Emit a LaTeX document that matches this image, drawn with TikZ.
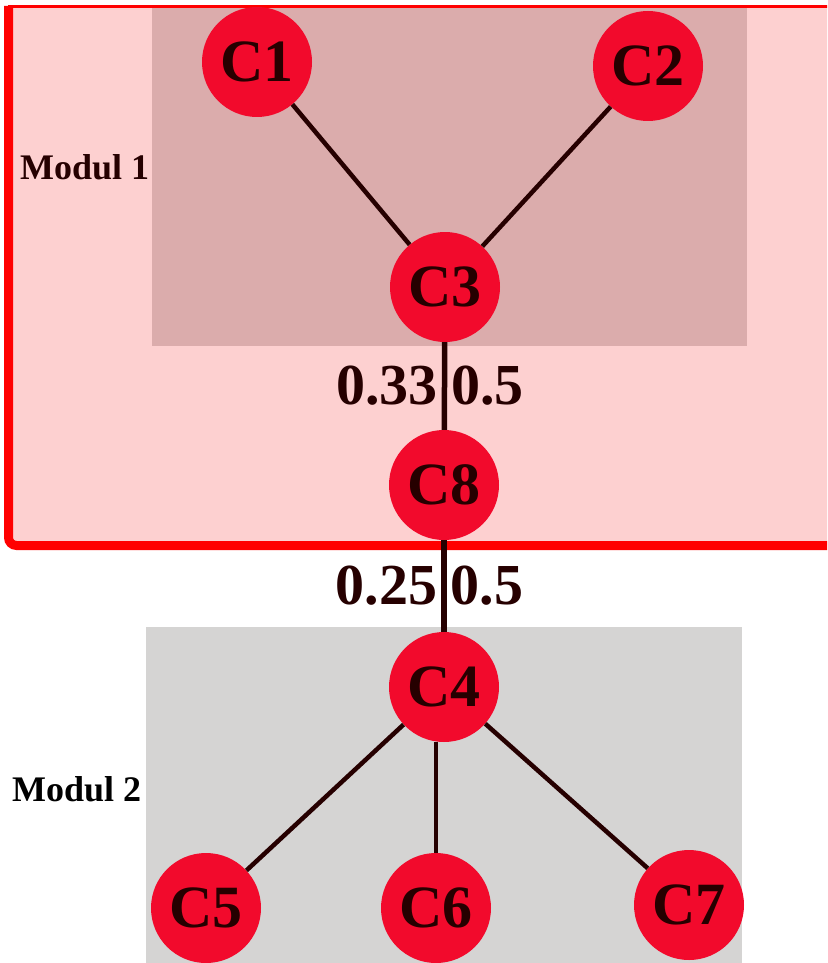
\documentclass[tikz,border=0pt]{standalone}
\usepackage{fontspec}
\setmainfont{Liberation Serif}
\usetikzlibrary{positioning}

\definecolor{framered}{HTML}{FF0000}
\definecolor{modpink}{HTML}{FDD0D0}
\definecolor{modrose}{HTML}{DBACAC}
\definecolor{modgray}{HTML}{D5D4D3}
\definecolor{nodered}{HTML}{F20A2C}
\definecolor{ink}{HTML}{260000}

\begin{document}
\begin{tikzpicture}[
  x=1pt, y=-1pt,
  comp/.style   = {
    circle, fill=nodered,
    minimum size=110pt, inner sep=0pt,
    text=ink, font=\fontsize{60}{60}\selectfont\bfseries
  },
  link/.style   = {draw=ink, line width=4.5pt},
  weight/.style = {text=ink, inner sep=4pt, font=\fontsize{58}{58}\selectfont\bfseries},
  modlabel/.style = {anchor=west, inner sep=0pt, font=\fontsize{36}{36}\selectfont\bfseries}
]

% ---- canvas ----
\clip (0,0) rectangle (827,963);
\fill[white] (0,0) rectangle (827,963);

% ---- module 1 frame ----
\fill[modpink] (8,6) rectangle (840,545);
\fill[modrose] (152,6) rectangle (747,346);
\draw[framered, line width=3pt] (8,6.5) -- (840,6.5);
\draw[framered, line width=9pt, rounded corners=8pt] (8.5,6) -- (8.5,545.5) -- (840,545.5);
\node[modlabel, text=ink] (mod1) at (20,167) {Modul 1};

% ---- module 2 area ----
\fill[modgray] (146,627) rectangle (742,970);
\node[modlabel, text=black] (mod2) at (12,789) {Modul 2};

% ---- components ----
\node[comp] (c1) at (257,62)  {C1};
\node[comp] (c2) at (648,66)  {C2};
\node[comp] (c3) at (445,287) {C3};
\node[comp] (c8) at (444,485) {C8};
\node[comp] (c4) at (444,687) {C4};
\node[comp] (c5) at (206,908) {C5};
\node[comp] (c6) at (436,908) {C6};
\node[comp] (c7) at (689,905) {C7};

% ---- links ----
\draw[link] (c1) -- (c3);
\draw[link] (c2) -- (c3);
\draw[link, line width=5.5pt] (c3) -- node[weight, left]  {0.33} node[weight, right] {0.5} (c8);
\draw[link, line width=5.5pt] (c8) -- node[weight, left]  {0.25} node[weight, right] {0.5} (c4);
\draw[link] (c4) -- (c5);
\draw[link] (c4.south -| c6) -- (c6);
\draw[link] (c4) -- (c7);

\end{tikzpicture}
\end{document}
